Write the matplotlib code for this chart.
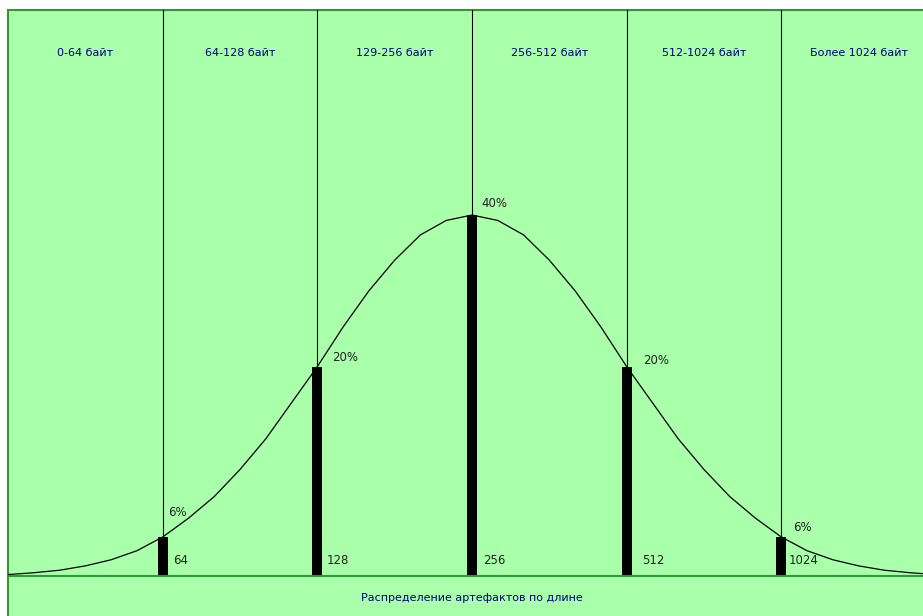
import numpy as np
import matplotlib
matplotlib.use("Agg")
import matplotlib.pyplot as plt
from matplotlib.patches import Rectangle
from matplotlib.transforms import blended_transform_factory

plt.rcParams['font.family'] = ['DejaVu Sans']

# Length bins (bytes) and the boundaries between them
bin_labels = ["0-64 байт", "64-128 байт", "129-256 байт",
              "256-512 байт", "512-1024 байт", "Более 1024 байт"]
boundary_labels = ["64", "128", "256", "512", "1024"]
shares = [6, 20, 40, 20, 6]          # share of artifacts, %

# Relative density of the bell curve, sampled six times per bin
curve_density = [0.004, 0.009, 0.016, 0.028, 0.045, 0.07,
                 0.108, 0.16, 0.22, 0.295, 0.38, 0.48,
                 0.58, 0.69, 0.79, 0.875, 0.945, 0.985,
                 1.0,
                 0.985, 0.945, 0.875, 0.79, 0.69, 0.58,
                 0.48, 0.38, 0.295, 0.22, 0.16, 0.108,
                 0.07, 0.045, 0.028, 0.016, 0.009, 0.004]

title = "Распределение артефактов по длине"

# Non-linear share axis: each share sits on the bell curve
SHARE_KNOTS = [0, 6, 20, 40, 100]
HEIGHT_KNOTS = [0, 0.108, 0.58, 1.0, 2.26]


def share_to_height(v):
    return np.interp(v, SHARE_KNOTS, HEIGHT_KNOTS)


def height_to_share(v):
    return np.interp(v, HEIGHT_KNOTS, SHARE_KNOTS)


W, H = 923, 616
fig = plt.figure(figsize=(W / 100, H / 100), dpi=100, facecolor="white")

FILL = "#aaffaa"
EDGE = "#2e9a2e"
NAVY = "#000080"

# Green panel, behind everything
fig.patches.append(Rectangle((8 / W, -0.05), 1.2, (606 / H) + 0.05,
                             transform=fig.transFigure, facecolor=FILL,
                             edgecolor=EDGE, linewidth=1.5, zorder=-10))

ax_left, ax_bottom = 8 / W, 40 / H
ax = fig.add_axes([ax_left, ax_bottom, 928 / W, 566 / H])
ax.patch.set_alpha(0)
ax.set_xlim(0, len(bin_labels))
top_h = 1.568
ax.set_yscale("function", functions=(share_to_height, height_to_share))
ax.set_ylim(0, float(height_to_share(top_h)))
ax.axis("off")

curve_ax = ax.twinx()
curve_ax.set_ylim(0, top_h)
curve_ax.set_xlim(0, len(bin_labels))
curve_ax.axis("off")

positions = np.arange(1, len(bin_labels))

# Bin separators
for x in positions:
    ax.axvline(x, color="black", linewidth=0.8, zorder=1)

# Baseline
fig.add_artist(plt.Line2D([8 / W, 1.0], [ax_bottom, ax_bottom],
                          transform=fig.transFigure, color=EDGE,
                          linewidth=1.5, zorder=5))

# Bell curve
curve_x = np.linspace(0, len(bin_labels), len(curve_density))
curve_ax.plot(curve_x, curve_density, color="black", linewidth=0.9, zorder=3)

# Boundary bars
ax.bar(positions, shares, width=10 / 154.67, color="black", zorder=4)

# Bin titles
tr = blended_transform_factory(ax.transData, ax.transAxes)
for i, lab in enumerate(bin_labels):
    ax.text(i + 0.5, 0.924, lab, transform=tr, ha="center", va="center",
            fontsize=8, color=NAVY)

# Share labels above bars
label_offsets = [(5, 25), (15, 9), (9, 12), (16, 6), (12, 10)]
for x, s, off in zip(positions, shares, label_offsets):
    ax.annotate(f"{s}%", xy=(x, s), xytext=off, textcoords="offset pixels",
                ha="left", va="center", fontsize=8.5, color="#222222")

# Boundary values near the baseline
tick_offsets = [10, 9, 11, 15, 7]
for x, lab, dx in zip(positions, boundary_labels, tick_offsets):
    ax.annotate(lab, xy=(x, 0), xytext=(dx, 15), textcoords="offset pixels",
                ha="left", va="center", fontsize=8.5, color="#222222")

fig.text(472 / W, (H - 598) / H, title, ha="center", va="center",
         fontsize=8, color=NAVY)

fig.savefig("out.png", dpi=100)
